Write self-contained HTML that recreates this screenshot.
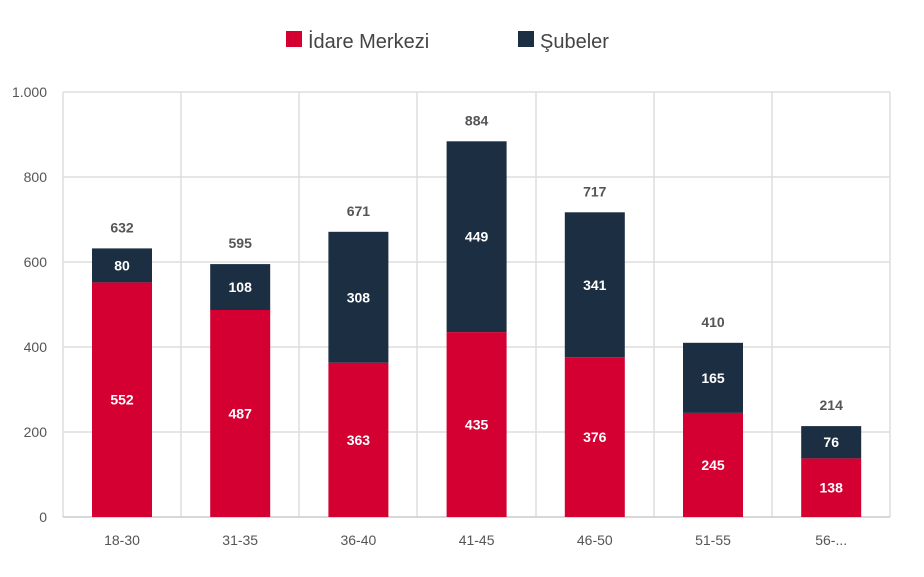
<!DOCTYPE html>
<html><head><meta charset="utf-8"><style>body{margin:0;background:#fff}</style></head><body>
<svg width="924" height="572" xmlns="http://www.w3.org/2000/svg" font-family="Liberation Sans, sans-serif">
<rect width="924" height="572" fill="#fff"/>
<rect x="286" y="31" width="16" height="16" fill="#d50032"/>
<text x="308" y="48" font-size="20" fill="#444">İdare Merkezi</text>
<rect x="518" y="31" width="16" height="16" fill="#1c2e42"/>
<text x="540" y="48" font-size="20" fill="#444">Şubeler</text>
<g stroke="#ddd" stroke-width="1.5" fill="none">
<line x1="63" y1="92" x2="890" y2="92"/><line x1="63" y1="177" x2="890" y2="177"/><line x1="63" y1="262" x2="890" y2="262"/><line x1="63" y1="347" x2="890" y2="347"/><line x1="63" y1="432" x2="890" y2="432"/>
<line x1="63" y1="92" x2="63" y2="517"/><line x1="181" y1="92" x2="181" y2="517"/><line x1="299" y1="92" x2="299" y2="517"/><line x1="417" y1="92" x2="417" y2="517"/><line x1="536" y1="92" x2="536" y2="517"/><line x1="654" y1="92" x2="654" y2="517"/><line x1="772" y1="92" x2="772" y2="517"/><line x1="890" y1="92" x2="890" y2="517"/>
<line x1="63" y1="517" x2="890" y2="517" stroke="#ccc"/>
</g>
<g font-size="14" fill="#555" text-anchor="end">
<text x="47" y="97">1.000</text><text x="47" y="182">800</text><text x="47" y="267">600</text><text x="47" y="352">400</text><text x="47" y="437">200</text><text x="47" y="522">0</text>
</g>
<g fill="#d50032">
<rect x="92" y="282.4" width="60" height="234.6"/>
<rect x="210.2" y="310" width="60" height="207"/>
<rect x="328.4" y="362.7" width="60" height="154.3"/>
<rect x="446.6" y="332.1" width="60" height="184.9"/>
<rect x="564.8" y="357.2" width="60" height="159.8"/>
<rect x="683" y="412.9" width="60" height="104.1"/>
<rect x="801.2" y="458.4" width="60" height="58.6"/>
</g>
<g fill="#1c2e42">
<rect x="92" y="248.4" width="60" height="34"/>
<rect x="210.2" y="264.1" width="60" height="45.9"/>
<rect x="328.4" y="231.8" width="60" height="130.9"/>
<rect x="446.6" y="141.3" width="60" height="190.8"/>
<rect x="564.8" y="212.3" width="60" height="144.9"/>
<rect x="683" y="342.8" width="60" height="70.1"/>
<rect x="801.2" y="426.1" width="60" height="32.3"/>
</g>
<g font-size="14" font-weight="bold" fill="#fff" text-anchor="middle">
<text x="122" y="404.7">552</text><text x="122" y="270.4">80</text>
<text x="240.2" y="418.5">487</text><text x="240.2" y="292.1">108</text>
<text x="358.4" y="444.8">363</text><text x="358.4" y="302.3">308</text>
<text x="476.6" y="429.5">435</text><text x="476.6" y="241.7">449</text>
<text x="594.8" y="442.1">376</text><text x="594.8" y="289.8">341</text>
<text x="713" y="470">245</text><text x="713" y="382.9">165</text>
<text x="831.2" y="492.7">138</text><text x="831.2" y="447.2">76</text>
</g>
<g font-size="14" font-weight="bold" fill="#555" text-anchor="middle">
<text x="122" y="232.4">632</text><text x="240.2" y="248.1">595</text><text x="358.4" y="215.8">671</text><text x="476.6" y="125.3">884</text><text x="594.8" y="196.3">717</text><text x="713" y="326.8">410</text><text x="831.2" y="410">214</text>
</g>
<g font-size="14" fill="#555" text-anchor="middle">
<text x="122" y="545">18-30</text><text x="240.2" y="545">31-35</text><text x="358.4" y="545">36-40</text><text x="476.6" y="545">41-45</text><text x="594.8" y="545">46-50</text><text x="713" y="545">51-55</text><text x="831.2" y="545">56-...</text>
</g>
</svg>
</body></html>
